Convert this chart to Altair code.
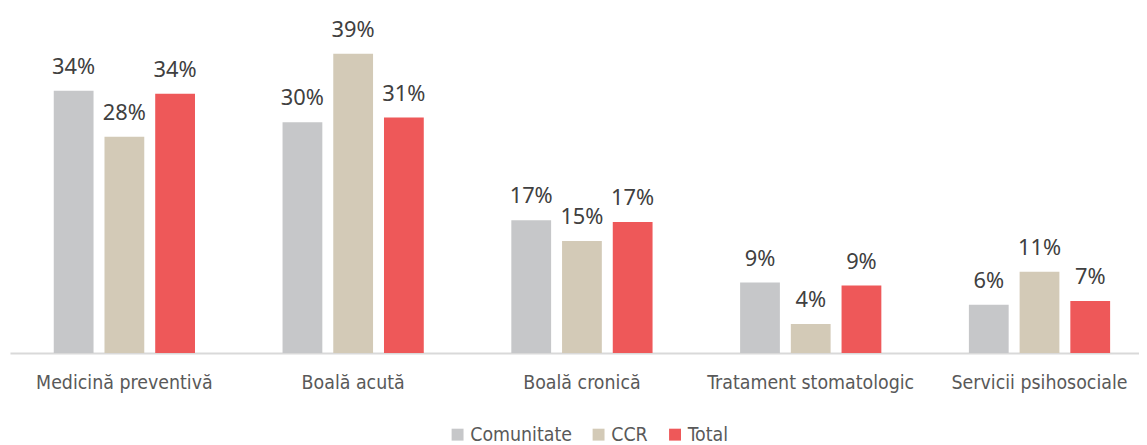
import altair as alt
import pandas as pd

categories = ["Medicină preventivă", "Boală acută", "Boală cronică",
              "Tratament stomatologic", "Servicii psihosociale"]
series = ["Comunitate", "CCR", "Total"]
comunitate = [0.342, 0.301, 0.173, 0.092, 0.063]
ccr = [0.282, 0.390, 0.146, 0.038, 0.106]
total = [0.338, 0.307, 0.171, 0.088, 0.068]
colors = ["#C6C7C9", "#D3CAB7", "#EE5859"]

rows = []
for name, vals in zip(series, [comunitate, ccr, total]):
    for c, v in zip(categories, vals):
        rows.append({"cat": c, "series": name, "value": v})
df = pd.DataFrame(rows)

narrow = "DejaVu Sans Condensed"

base = alt.Chart(df).encode(
    x=alt.X("cat:N", sort=categories,
            scale=alt.Scale(rangeMin=0, rangeMax=1152, paddingInner=0, paddingOuter=0),
            axis=alt.Axis(title=None, labelAngle=0, ticks=False, labelPadding=21,
                          labelFont=narrow, labelFontSize=19.5, labelColor="#595959",
                          labelLimit=400, labelOverlap=False,
                          domainColor="#D9D9D9", domainWidth=2)),
    xOffset=alt.XOffset("series:N", sort=series,
                        scale=alt.Scale(paddingInner=0.2157, paddingOuter=0.863)),
)

bars = base.mark_bar().encode(
    y=alt.Y("value:Q", scale=alt.Scale(domain=[0, 0.44], nice=False, zero=True),
            axis=None),
    color=alt.Color("series:N", sort=series,
                    scale=alt.Scale(domain=series, range=colors),
                    legend=alt.Legend(title=None, orient="none", direction="horizontal",
                                      legendX=441, legendY=412, padding=0,
                                      symbolType="square", symbolSize=144,
                                      symbolStrokeWidth=0, labelOffset=3,
                                      columnPadding=17, labelFont=narrow,
                                      labelFontSize=19.5, labelColor="#595959")),
)

text = base.mark_text(baseline="alphabetic", dy=-17, fontSize=22,
                      font="Noto Sans", color="#404040").encode(
    y=alt.Y("value:Q", scale=alt.Scale(domain=[0, 0.44], nice=False, zero=True)),
    text=alt.Text("value:Q", format=".0%"),
)

chart = (bars + text).properties(
    width=1137, height=340,
    padding={"left": 2, "top": 6, "right": 0, "bottom": 91},
    autosize=alt.AutoSizeParams(type="none"),
).configure_view(stroke=None)

chart.save("out.html", embed_options={"renderer": "svg", "actions": False})
